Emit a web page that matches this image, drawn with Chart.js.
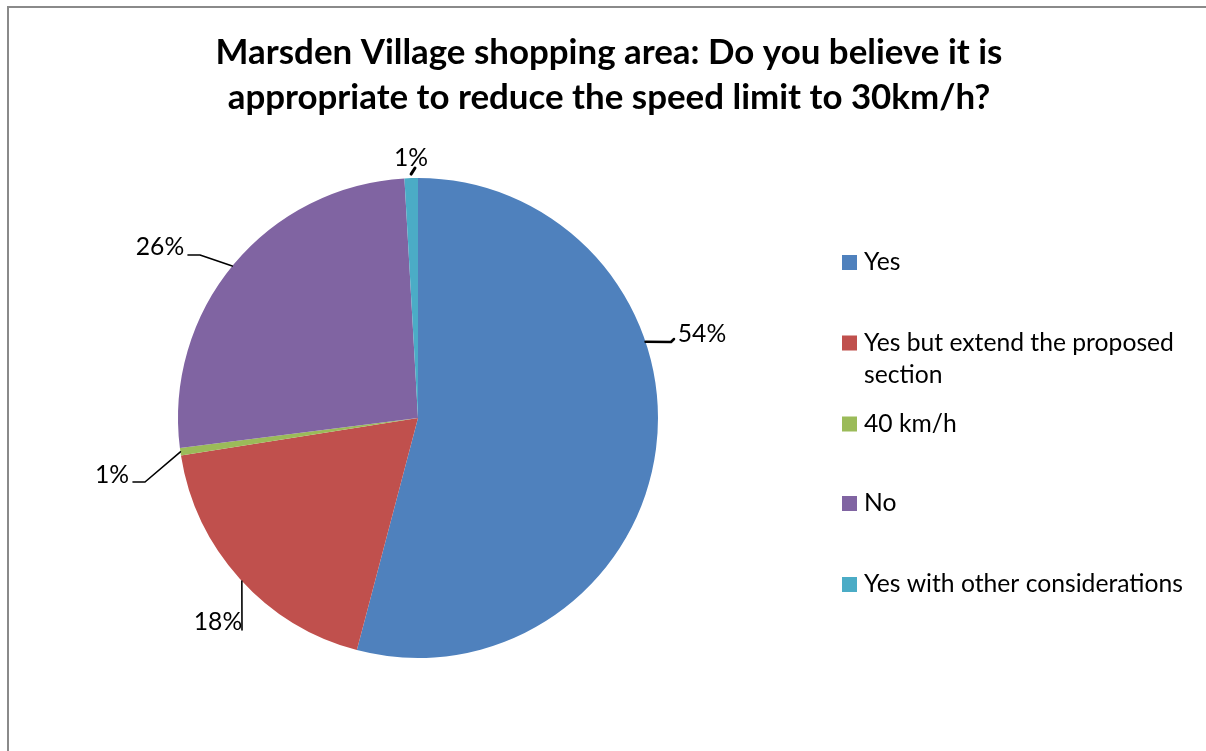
<!DOCTYPE html>
<html>
<head>
<meta charset="utf-8">
<script src="https://cdn.jsdelivr.net/npm/chart.js@4/dist/chart.umd.min.js"></script>
<style>
  html, body { margin: 0; padding: 0; background: #fff; }
  #wrap { width: 1206px; height: 751px; }
</style>
</head>
<body>
<div id="wrap"><canvas id="pie" width="1206" height="751"></canvas></div>
<script>
// data (shares in %, clockwise from 12 o'clock)
const categories = ["Yes", "Yes but extend the proposed section", "40 km/h", "No", "Yes with other considerations"];
const shares = [54.1, 18.4, 0.5, 26.1, 0.9];
const colors = ["#4f81bd", "#c0504d", "#9bbb59", "#8064a2", "#4bacc6"];
const titleLines = ["Marsden Village shopping area: Do you believe it is", "appropriate to reduce the speed limit to 30km/h?"];
const legendLines = [["Yes"], ["Yes but extend the proposed", "section"], ["40 km/h"], ["No"], ["Yes with other considerations"]];

// where each data label sits, and where its leader line touches the slice
const labelLayout = [
  { frac: 0.367, w: 2.5, pts: [[671, 342], [674, 339]], tx: 702, ty: 334 },
  { frac: 0.49, w: 1.6, pts: [[242, 630]], tx: 218, ty: 622 },
  { frac: 0.5, w: 1.6, pts: [[145, 482], [133, 482]], tx: 112, ty: 475 },
  { frac: 0.495, w: 1.6, pts: [[200, 255], [188, 255]], tx: 160, ty: 247 },
  { frac: 0.5, w: 3, gap: 4, pts: [[415, 168]], tx: 411, ty: 158 }
];

const FONT = "Lato, 'Open Sans', sans-serif";

function fitSize(ctx, text, weight, target) {
  ctx.font = weight + " 100px " + FONT;
  return 100 * target / ctx.measureText(text).width;
}

const decor = {
  id: "decor",
  afterDraw(chart) {
    const ctx = chart.ctx;
    ctx.save();

    // frame
    ctx.fillStyle = "#8a8a8a";
    ctx.fillRect(7, 6, 1199, 2);
    ctx.fillRect(7, 6, 2, 745);

    // title
    const ts = fitSize(ctx, titleLines[0], "bold", 787);
    ctx.font = "bold " + ts.toFixed(2) + "px " + FONT;
    ctx.fillStyle = "#000";
    ctx.textAlign = "center";
    ctx.textBaseline = "alphabetic";
    ctx.fillText(titleLines[0], 609, 64);
    ctx.fillText(titleLines[1], 609, 109);

    // legend
    const ls = fitSize(ctx, "Yes with other considerations", "normal", 319);
    ctx.font = ls.toFixed(2) + "px " + FONT;
    ctx.textAlign = "left";
    ctx.textBaseline = "middle";
    const rowY = [262.5, 343, 424, 503.5, 584.5];
    legendLines.forEach((lines, i) => {
      ctx.fillStyle = colors[i];
      ctx.fillRect(842, rowY[i] - 7.5, 15, 15);
      ctx.fillStyle = "#000";
      lines.forEach((t, j) => ctx.fillText(t, 864, rowY[i] + j * 32));
    });

    // data labels with leader lines
    const meta = chart.getDatasetMeta(0);
    const total = shares.reduce((a, b) => a + b, 0);
    ctx.strokeStyle = "#000";
    ctx.lineCap = "round";
    ctx.lineJoin = "round";
    ctx.textAlign = "center";
    labelLayout.forEach((lab, i) => {
      const arc = meta.data[i].getProps(["x", "y", "startAngle", "endAngle", "outerRadius"], true);
      const a = arc.startAngle + lab.frac * (arc.endAngle - arc.startAngle);
      const r = arc.outerRadius + (lab.gap || 0);
      ctx.lineWidth = lab.w;
      ctx.beginPath();
      ctx.moveTo(arc.x + Math.cos(a) * r, arc.y + Math.sin(a) * r);
      lab.pts.forEach(p => ctx.lineTo(p[0], p[1]));
      ctx.stroke();
      ctx.fillText(Math.round(shares[i] / total * 100) + "%", lab.tx, lab.ty);
    });

    ctx.restore();
  }
};

new Chart(document.getElementById("pie"), {
  type: "pie",
  data: {
    labels: categories,
    datasets: [{
      data: shares,
      backgroundColor: colors,
      borderWidth: 0
    }]
  },
  options: {
    responsive: false,
    animation: false,
    layout: { padding: { left: 178, right: 548, top: 178, bottom: 93 } },
    plugins: {
      legend: { display: false },
      title: { display: false },
      tooltip: { enabled: false }
    }
  },
  plugins: [decor]
});
</script>
</body>
</html>
